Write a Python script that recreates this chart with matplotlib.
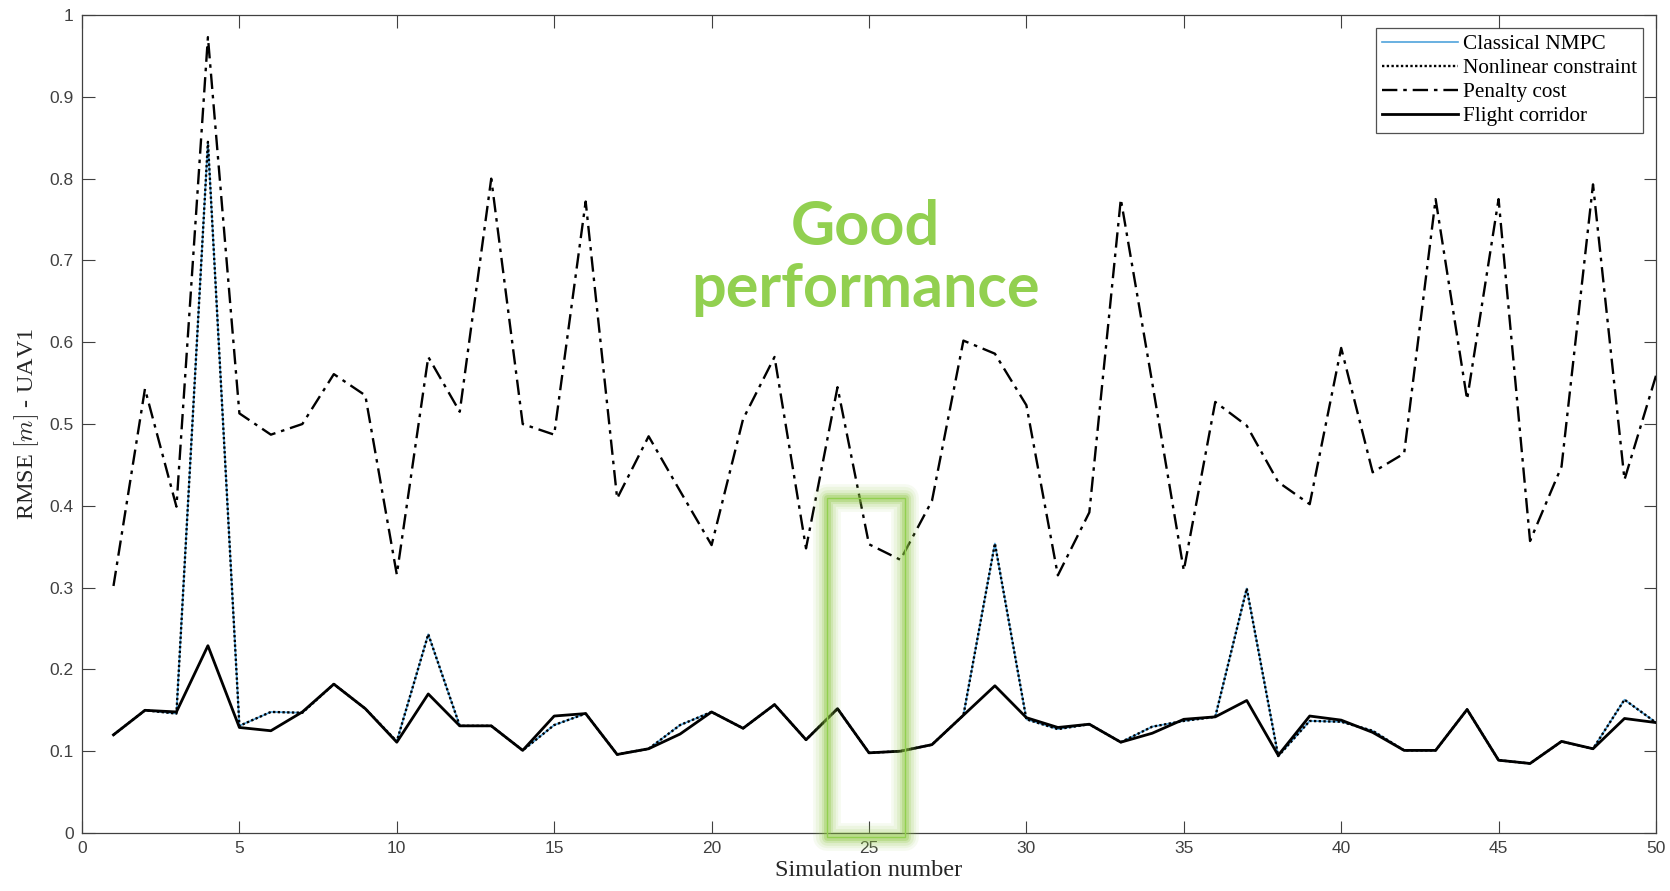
import numpy as np
import matplotlib
matplotlib.use("Agg")
import matplotlib.pyplot as plt
from matplotlib.patches import Rectangle

plt.rcParams['mathtext.fontset'] = 'cm'

# RMSE of UAV1 for each simulation run
sim = np.arange(1, 51)

classical_nmpc = [0.120, 0.150, 0.146, 0.845, 0.131, 0.148, 0.147, 0.182, 0.152, 0.112,
                  0.243, 0.131, 0.131, 0.101, 0.132, 0.146, 0.096, 0.103, 0.132, 0.148,
                  0.128, 0.157, 0.114, 0.152, 0.098, 0.100, 0.108, 0.144, 0.354, 0.139,
                  0.127, 0.133, 0.111, 0.130, 0.137, 0.142, 0.299, 0.094, 0.137, 0.136,
                  0.125, 0.101, 0.101, 0.151, 0.089, 0.085, 0.112, 0.103, 0.163, 0.135]

nonlinear_constraint = [0.120, 0.150, 0.146, 0.845, 0.131, 0.148, 0.147, 0.182, 0.152, 0.112,
                        0.243, 0.131, 0.131, 0.101, 0.132, 0.146, 0.096, 0.103, 0.132, 0.148,
                        0.128, 0.157, 0.114, 0.152, 0.098, 0.100, 0.108, 0.144, 0.354, 0.139,
                        0.127, 0.133, 0.111, 0.130, 0.137, 0.142, 0.299, 0.094, 0.137, 0.136,
                        0.125, 0.101, 0.101, 0.151, 0.089, 0.085, 0.112, 0.103, 0.163, 0.135]

penalty_cost = [0.302, 0.543, 0.399, 0.973, 0.513, 0.487, 0.500, 0.561, 0.535, 0.316,
                0.582, 0.515, 0.800, 0.500, 0.487, 0.772, 0.409, 0.485, 0.418, 0.352,
                0.506, 0.582, 0.348, 0.545, 0.353, 0.334, 0.406, 0.602, 0.586, 0.523,
                0.315, 0.392, 0.775, 0.550, 0.321, 0.527, 0.498, 0.429, 0.402, 0.593,
                0.441, 0.464, 0.775, 0.530, 0.775, 0.357, 0.448, 0.793, 0.432, 0.559]

flight_corridor = [0.120, 0.150, 0.148, 0.229, 0.129, 0.125, 0.148, 0.182, 0.152, 0.111,
                   0.170, 0.131, 0.131, 0.101, 0.143, 0.146, 0.096, 0.103, 0.121, 0.148,
                   0.128, 0.157, 0.114, 0.152, 0.098, 0.100, 0.108, 0.144, 0.180, 0.141,
                   0.129, 0.133, 0.111, 0.122, 0.139, 0.142, 0.162, 0.095, 0.143, 0.138,
                   0.123, 0.101, 0.101, 0.151, 0.089, 0.085, 0.112, 0.103, 0.140, 0.135]

# highlighted runs
box_x = (23.67, 26.14)
box_y = (-0.005, 0.41)

fig = plt.figure(figsize=(16.7, 8.91), dpi=100)
ax = fig.add_axes([0.0491, 0.0651, 0.9425, 0.918])

ax.plot(sim, classical_nmpc, color='#4fa3dc', lw=1.2, label='Classical NMPC', zorder=3)
ax.plot(sim, nonlinear_constraint, color='black', lw=1.7, ls=(0, (1, 1)),
        label='Nonlinear constraint', zorder=4)
ax.plot(sim, penalty_cost, color='black', lw=1.7, ls=(0, (6.5, 2.5, 1.5, 2.5)),
        label='Penalty cost', zorder=4)
ax.plot(sim, flight_corridor, color='black', lw=2.0, label='Flight corridor', zorder=5)

# glowing frame around the good runs
w = box_x[1] - box_x[0]
h = box_y[1] - box_y[0]
for lw, a in [(20, 0.07), (16, 0.09), (12, 0.13), (8, 0.2), (5, 0.3)]:
    ax.add_patch(Rectangle((box_x[0], box_y[0]), w, h, fill=False,
                           edgecolor='#8cc63f', lw=lw, alpha=a, zorder=6,
                           clip_on=False, joinstyle='round'))
ax.add_patch(Rectangle((box_x[0], box_y[0]), w, h, fill=False,
                       edgecolor='#92d050', lw=1.0, zorder=7, clip_on=False))

ax.text(24.9, 0.703, 'Good\nperformance', color='#92d050', fontsize=44,
        fontweight='bold', family='Lato', ha='center', va='center',
        linespacing=1.12, zorder=8)

ax.set_xlim(0, 50)
ax.set_ylim(0, 1)
ax.set_xticks(np.arange(0, 51, 5))
ax.set_yticks(np.arange(0, 1.01, 0.1))
ax.set_yticklabels(['0', '0.1', '0.2', '0.3', '0.4', '0.5', '0.6', '0.7', '0.8', '0.9', '1'])

ax.tick_params(direction='in', length=9, width=0.8, color='#404040',
               top=True, right=True, labelsize=12.5, labelcolor='#404040', pad=6)
for lab in ax.get_xticklabels() + ax.get_yticklabels():
    lab.set_family('Liberation Sans')
for sp in ax.spines.values():
    sp.set_color('#404040')
    sp.set_linewidth(0.9)

ax.set_xlabel('Simulation number', family='Liberation Serif', fontsize=17.5,
              color='#262626', labelpad=3)
ax.set_ylabel(r'RMSE $[m]$ - UAV1', family='Liberation Serif', fontsize=17.5,
              color='#262626', labelpad=6)

leg = ax.legend(loc='upper right', prop={'family': 'Liberation Serif', 'size': 15.3},
                frameon=True, fancybox=False, borderaxespad=0.6, handlelength=3.6,
                handletextpad=0.2, labelspacing=0.2, borderpad=0.3)
leg.get_frame().set_edgecolor('#262626')
leg.get_frame().set_linewidth(0.9)
leg.set_zorder(10)

fig.savefig('out.png', dpi=100)
